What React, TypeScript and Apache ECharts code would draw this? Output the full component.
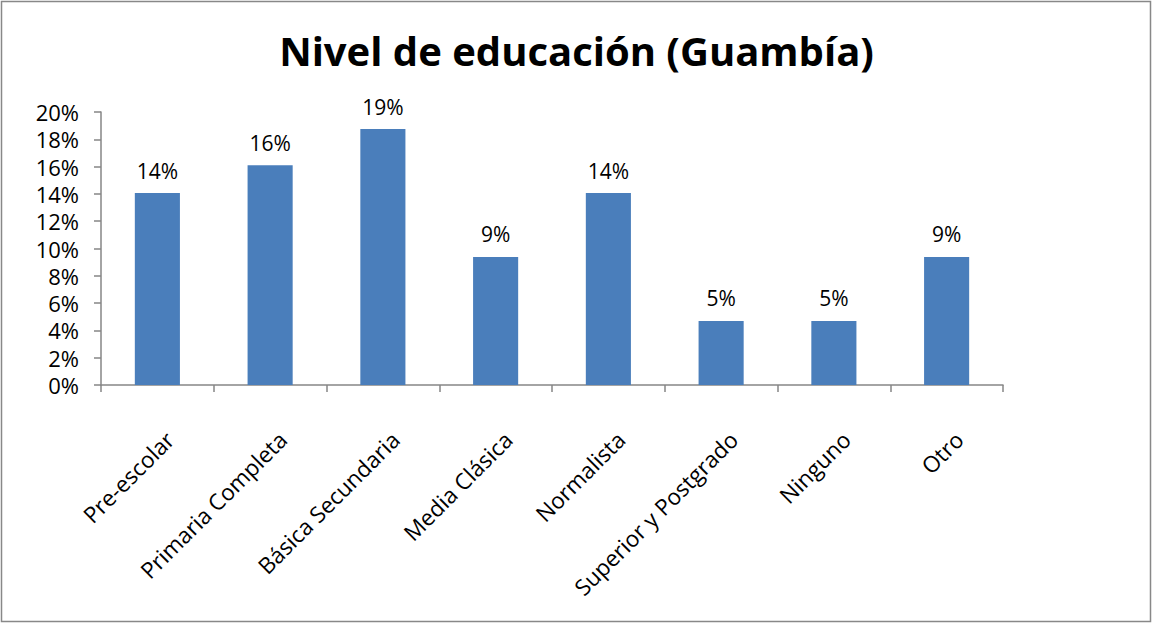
import React, { useEffect, useRef } from "react";
import * as echarts from "echarts";

const categories = [
  "Pre-escolar",
  "Primaria Completa",
  "Básica Secundaria",
  "Media Clásica",
  "Normalista",
  "Superior y Postgrado",
  "Ninguno",
  "Otro",
];
const values = [0.1406, 0.161, 0.1875, 0.0938, 0.1406, 0.0469, 0.0469, 0.0938];
const titleText = "Nivel de educación (Guambía)";

const FONT = "'Open Sans', 'Noto Sans', sans-serif";

export default function App() {
  const ref = useRef<HTMLDivElement>(null);
  useEffect(() => {
    if (!ref.current) return;
    const chart = echarts.init(ref.current, undefined, { renderer: "svg" });
    chart.setOption({
      animation: false,
      backgroundColor: "#ffffff",
      title: {
        text: titleText,
        left: "center",
        top: 25,
        textStyle: { fontFamily: FONT, fontSize: 40, fontWeight: "bold", color: "#000" },
      },
      graphic: [
        {
          type: "rect",
          shape: { x: 1.5, y: 1.5, width: 1149, height: 620 },
          style: { fill: "none", stroke: "#888888", lineWidth: 1.5 },
          silent: true,
        },
      ],
      grid: { left: 101, right: 150, top: 112, bottom: 240 },
      xAxis: {
        type: "category",
        data: categories,
        axisLine: { lineStyle: { color: "#868686", width: 1.5 } },
        axisTick: { show: true, length: 7, lineStyle: { color: "#868686", width: 1.5 } },
        axisLabel: {
          rotate: 45,
          interval: 0,
          margin: 38,
          verticalAlign: "top",
          lineHeight: 36,
          fontFamily: FONT,
          fontSize: 22.5,
          color: "#000",
        },
      },
      yAxis: {
        type: "value",
        min: 0,
        max: 0.2,
        interval: 0.02,
        splitLine: { show: false },
        axisLine: { show: true, lineStyle: { color: "#868686", width: 1.5 } },
        axisTick: { show: true, length: 7, lineStyle: { color: "#868686", width: 1.5 } },
        axisLabel: {
          fontFamily: FONT,
          fontSize: 22,
          lineHeight: 20,
          color: "#000",
          margin: 22,
          formatter: (v: number) => Math.round(v * 100) + "%",
        },
      },
      series: [
        {
          type: "bar",
          data: values,
          barWidth: "40%",
          itemStyle: { color: "#4a7ebb" },
          label: {
            show: true,
            position: "top",
            distance: 12,
            fontFamily: FONT,
            fontSize: 21,
            color: "#000",
            formatter: (p: any) => Math.round(p.value * 100) + "%",
          },
        },
      ],
    });
    return () => chart.dispose();
  }, []);
  return (
    <div
      ref={ref}
      style={{ position: "fixed", left: 0, top: 0, width: 1153, height: 625 }}
    />
  );
}
